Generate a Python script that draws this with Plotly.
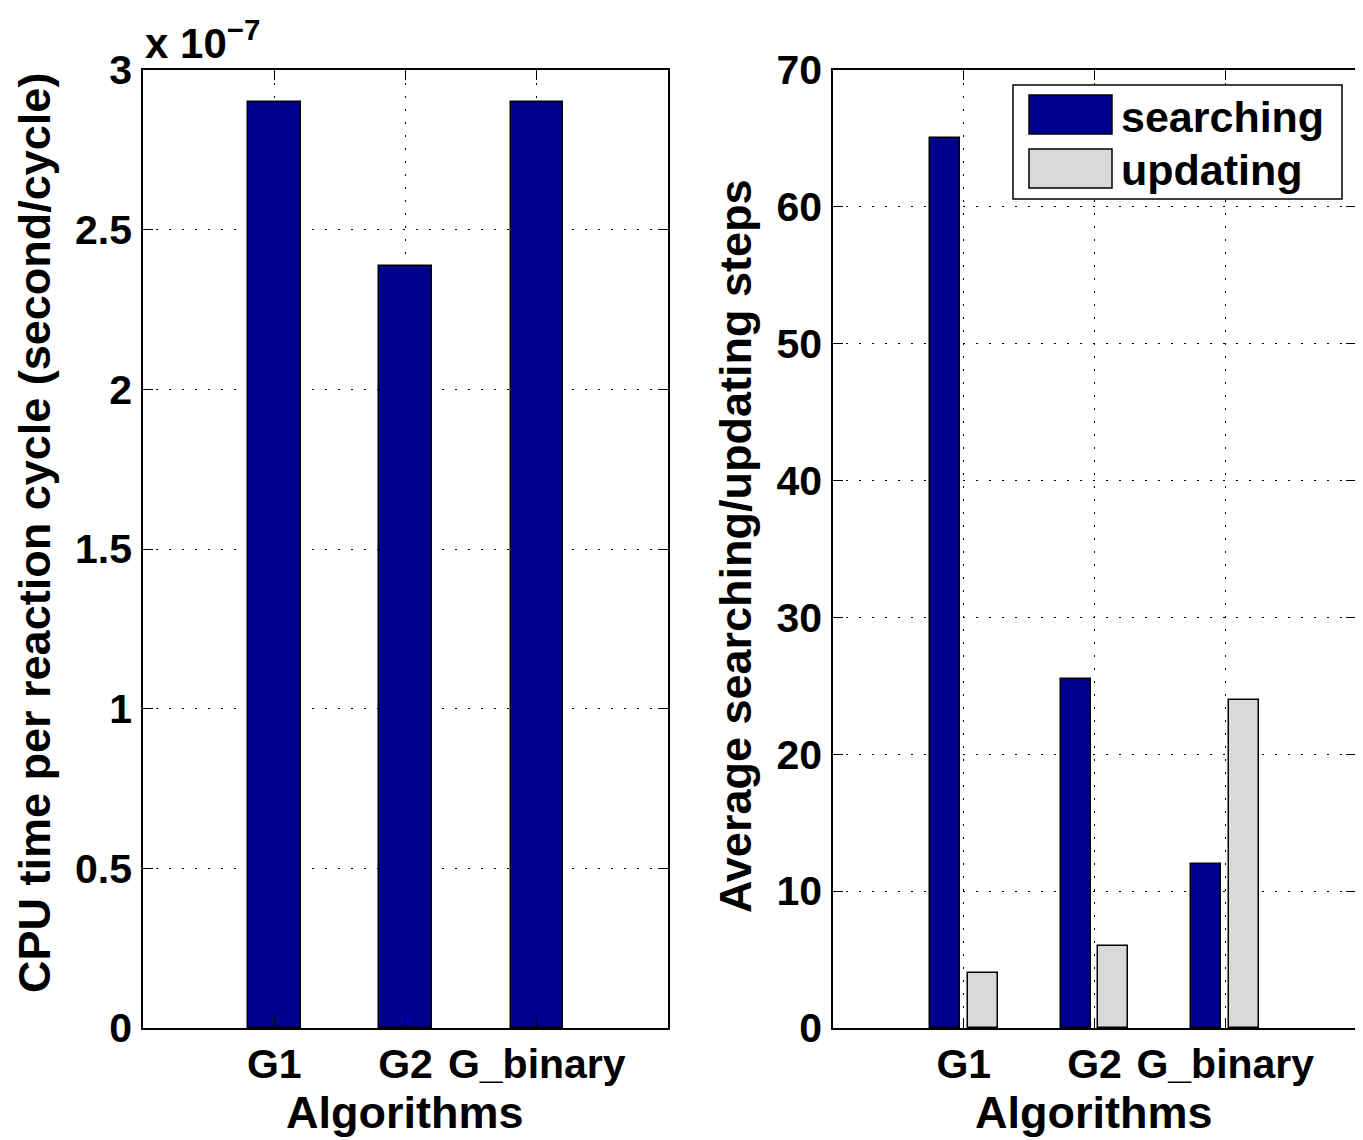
import plotly.graph_objects as go

algorithms = ["G1", "G2", "G_binary"]
positions = [1, 2, 3]
cpu_time = [2.90e-7, 2.385e-7, 2.90e-7]
searching = [65, 25.5, 12]
updating = [4, 6, 24]
left_ticks = [0, 0.5e-7, 1e-7, 1.5e-7, 2e-7, 2.5e-7, 3e-7]
left_ticktext = ["0", "0.5", "1", "1.5", "2", "2.5", "3"]
right_ticks = [0, 10, 20, 30, 40, 50, 60, 70]

BLUE = "#00008F"
GREY = "#D9D9D9"
OFF = 8  # page body margin
W, H = 1363 - OFF, 1140 - OFF
FONT = "Liberation Sans, Arial, Helvetica, sans-serif"

def px(x):
    return (x - OFF) / W

def py(y):
    return 1 - (y - OFF) / H

fig = go.Figure()
fig.add_trace(go.Bar(x=positions, y=cpu_time, width=0.4, marker=dict(color=BLUE, line=dict(color="black", width=1.5)),
                     xaxis="x", yaxis="y", showlegend=False, name="CPU time"))
fig.add_trace(go.Bar(x=positions, y=searching, width=0.23, offset=-0.26,
                     marker=dict(color=BLUE, line=dict(color="black", width=1.5)),
                     xaxis="x2", yaxis="y2", showlegend=False, name="searching"))
fig.add_trace(go.Bar(x=positions, y=updating, width=0.23, offset=0.03,
                     marker=dict(color=GREY, line=dict(color="black", width=1.5)),
                     xaxis="x2", yaxis="y2", showlegend=False, name="updating"))

ydom = [py(1028), py(70)]
axis_common = dict(showline=True, linecolor="black", linewidth=1.5, mirror="allticks",
                   ticks="inside", ticklen=10, tickwidth=1.2, tickcolor="black",
                   showgrid=True, gridcolor="black", gridwidth=1, griddash="2px,11px",
                   zeroline=False, automargin=False,
                   tickfont=dict(size=41, family=FONT, color="black", weight="bold"))

fig.update_layout(
    template="none",
    width=W, height=H, margin=dict(l=0, r=0, t=0, b=0, autoexpand=False),
    paper_bgcolor="white", plot_bgcolor="white",
    font=dict(family=FONT, color="black", weight="bold"),
    xaxis=dict(domain=[px(143), px(668)], range=[0, 4], tickvals=positions, ticktext=algorithms,
               anchor="y", ticklabelstandoff=-1, **axis_common),
    yaxis=dict(domain=ydom, range=[0, 3e-7], tickvals=left_ticks, ticktext=left_ticktext,
               anchor="x", ticklabelstandoff=1, **axis_common),
    xaxis2=dict(domain=[px(833), px(1356)], range=[0, 4], tickvals=positions, ticktext=algorithms,
                anchor="y2", ticklabelstandoff=-1, **axis_common),
    yaxis2=dict(domain=ydom, range=[0, 70], tickvals=right_ticks,
                anchor="x2", ticklabelstandoff=1, **axis_common),
    bargap=0,
)

ann_font = dict(size=45, family=FONT, color="black", weight="bold")
annotations = [
    dict(text="Algorithms", x=px(405), y=py(1112), xanchor="center", yanchor="middle", font=ann_font),
    dict(text="Algorithms", x=px(1094), y=py(1112), xanchor="center", yanchor="middle", font=ann_font),
    dict(text="CPU time per reaction cycle (second/cycle)", x=px(34), y=py(533), textangle=-90,
         xanchor="center", yanchor="middle", font=ann_font),
    dict(text="Average searching/updating steps", x=px(735), y=py(546), textangle=-90,
         xanchor="center", yanchor="middle", font=ann_font),
    dict(text="x 10<sup>\u22127</sup>", x=px(143), y=py(69), xanchor="left", yanchor="bottom",
         font=dict(size=42, family=FONT, color="black", weight="bold")),
    dict(text="searching", x=px(1119), y=py(117), xanchor="left", yanchor="middle",
         font=dict(size=43, family=FONT, color="black", weight="bold")),
    dict(text="updating", x=px(1119), y=py(170), xanchor="left", yanchor="middle",
         font=dict(size=43, family=FONT, color="black", weight="bold")),
]
for a in annotations:
    a.update(xref="paper", yref="paper", showarrow=False)
fig.update_layout(annotations=annotations)

shapes = [
    dict(type="rect", x0=px(1013), x1=px(1342), y0=py(199), y1=py(85),
         line=dict(color="black", width=1.5), fillcolor="white", layer="above"),
    dict(type="rect", x0=px(1029), x1=px(1112), y0=py(134), y1=py(95),
         line=dict(color="black", width=1.5), fillcolor=BLUE, layer="above"),
    dict(type="rect", x0=px(1029), x1=px(1112), y0=py(188), y1=py(149),
         line=dict(color="black", width=1.5), fillcolor=GREY, layer="above"),
]
for s in shapes:
    s.update(xref="paper", yref="paper")
fig.update_layout(shapes=shapes)

fig.write_html("out.html")
